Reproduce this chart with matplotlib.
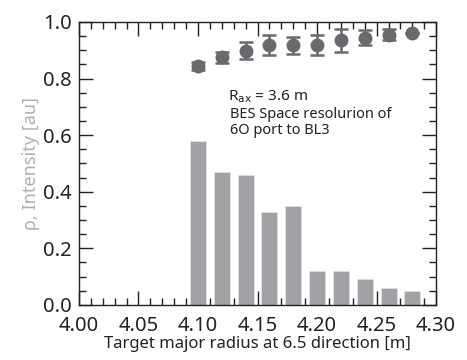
import matplotlib
matplotlib.use("Agg")
import matplotlib.pyplot as plt
from matplotlib.ticker import MultipleLocator

plt.rcParams['font.family'] = ['Noto Sans', 'DejaVu Sans']

bar_x = [4.10, 4.12, 4.14, 4.16, 4.18, 4.20, 4.22, 4.24, 4.26, 4.28]
bar_h = [0.58, 0.47, 0.46, 0.33, 0.35, 0.12, 0.12, 0.09, 0.06, 0.05]
pt_x = [4.10, 4.12, 4.14, 4.16, 4.18, 4.20, 4.22, 4.24, 4.26, 4.28]
pt_y = [0.845, 0.875, 0.898, 0.918, 0.918, 0.918, 0.935, 0.945, 0.955, 0.96]
pt_err = [0.015, 0.02, 0.03, 0.035, 0.03, 0.035, 0.04, 0.025, 0.02, 0.0]
x_ticks = [4.00, 4.05, 4.10, 4.15, 4.20, 4.25, 4.30]
y_ticks = [0.0, 0.2, 0.4, 0.6, 0.8, 1.0]

fig = plt.figure(figsize=(4.67, 3.6), dpi=100)
ax = fig.add_axes([0.169, 0.153, 0.765, 0.786])

ax.bar(bar_x, bar_h, width=0.0135, color='#a2a2a6', edgecolor='#e0e0e0', linewidth=0.6, zorder=2)
ax.errorbar(pt_x, pt_y, yerr=pt_err, fmt='o', color='#6a6a6e', markersize=9,
            elinewidth=1.8, capsize=5, capthick=1.8, zorder=3)

ax.set_xlim(4.00, 4.30)
ax.set_ylim(0.0, 1.0)
ax.set_xticks(x_ticks)
ax.set_xticklabels([f"{v:.2f}" for v in x_ticks])
ax.set_yticks(y_ticks)
ax.set_yticklabels([f"{v:.1f}" for v in y_ticks])
ax.xaxis.set_minor_locator(MultipleLocator(0.01))
ax.yaxis.set_minor_locator(MultipleLocator(0.05))
ax.tick_params(which='both', direction='in', top=True, right=True, colors='#222222')
ax.tick_params(which='major', length=10, width=1.0, labelsize=14.5)
ax.tick_params(axis='x', which='major', pad=8)
ax.tick_params(axis='y', which='major', pad=5)
ax.tick_params(which='minor', length=5, width=1.0)
for s in ax.spines.values():
    s.set_color('#222222')
    s.set_linewidth(1.0)

ax.set_xlabel('Target major radius at 6.5 direction [m]', fontsize=12, color='#222222', labelpad=0)
ax.set_ylabel('ρ, Intensity [au]', fontsize=13, color='#b0b0b0', labelpad=2)

ax.text(4.125, 0.735, r'R$_{\mathrm{ax}}$ = 3.6 m', fontsize=11, color='#222222', va='center')
ax.text(4.127, 0.645, 'BES Space resolurion of\n6O port to BL3', fontsize=10.5, color='#222222',
        va='center', linespacing=1.1)

fig.savefig('out.png', dpi=100)
